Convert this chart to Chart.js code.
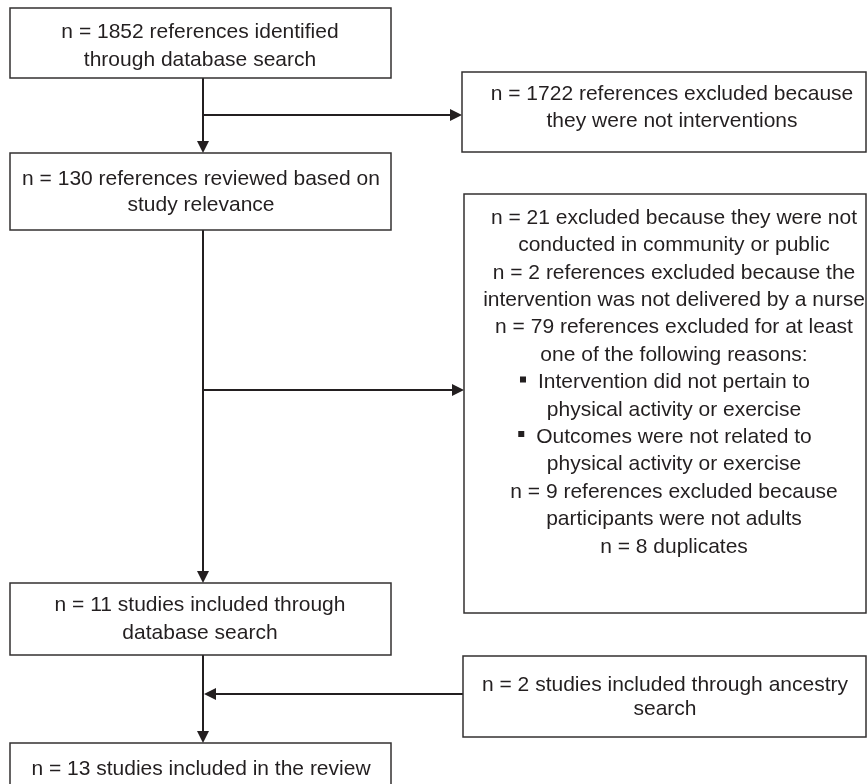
<!DOCTYPE html>
<html>
<head>
<meta charset="utf-8">
<script src="https://cdn.jsdelivr.net/npm/chart.js@4/dist/chart.umd.min.js"></script>
<style>
  html, body { margin: 0; padding: 0; background: #ffffff; }
  #wrap { width: 867px; height: 784px; }
</style>
</head>
<body>
<div id="wrap"><canvas id="c" width="867" height="784"></canvas></div>
<script>
// ---- Data (texts of the flow diagram) ----
const identifiedText = ['n = 1852 references identified', 'through database search'];
const notInterventionText = ['n = 1722 references excluded because', 'they were not interventions'];
const reviewedText = ['n = 130 references reviewed based on', 'study relevance'];
const excludedText = [
  'n = 21 excluded because they were not',
  'conducted in community or public',
  'n = 2 references excluded because the',
  'intervention was not delivered by a nurse',
  'n = 79 references excluded for at least',
  'one of the following reasons:',
  'Intervention did not pertain to',
  'physical activity or exercise',
  'Outcomes were not related to',
  'physical activity or exercise',
  'n = 9 references excluded because',
  'participants were not adults',
  'n = 8 duplicates'
];
const excludedBulletLines = [6, 8];
const includedDbText = ['n = 11 studies included through', 'database search'];
const ancestryText = ['n = 2 studies included through ancestry', 'search'];
const reviewText = ['n = 13 studies included in the review'];

// ---- Layout (positions in scale units, kept apart from the data) ----
const boxLayout = {
  identified:      { x0: 10,  y0: 8,   x1: 391, y1: 78,  cx: 200, lines: [32, 60] },
  notIntervention: { x0: 462, y0: 72,  x1: 866, y1: 152, cx: 672, lines: [94, 121] },
  reviewed:        { x0: 10,  y0: 153, x1: 391, y1: 230, cx: 201, lines: [179, 205] },
  excluded:        { x0: 464, y0: 194, x1: 866, y1: 613, cx: 674, lines: [218, 245.5, 273, 300, 327.5, 355, 382.5, 410, 437, 464.5, 492, 519.5, 547] },
  includedDb:      { x0: 10,  y0: 583, x1: 391, y1: 655, cx: 200, lines: [605, 633] },
  ancestry:        { x0: 463, y0: 656, x1: 866, y1: 737, cx: 665, lines: [685, 709] },
  review:          { x0: 10,  y0: 743, x1: 391, y1: 800, cx: 201, lines: [769] }
};
const connectors = [
  { from: [203, 78],  to: [203, 153] },
  { from: [203, 115], to: [462, 115] },
  { from: [203, 230], to: [203, 583] },
  { from: [203, 390], to: [464, 390] },
  { from: [203, 655], to: [203, 743] },
  { from: [463, 694], to: [204, 694] }
];

const INK = '#231f20';
const FONT = '21px "Liberation Sans", Arial, Helvetica, sans-serif';

const flowPlugin = {
  id: 'flow',
  afterDraw(chart) {
    const ctx = chart.ctx;
    const X = v => chart.scales.x.getPixelForValue(v);
    const Y = v => chart.scales.y.getPixelForValue(v);
    ctx.save();
    ctx.strokeStyle = INK;
    ctx.fillStyle = INK;

    // connectors with arrowheads
    ctx.lineWidth = 2;
    connectors.forEach(c => {
      const x1 = X(c.from[0]), y1 = Y(c.from[1]);
      const x2 = X(c.to[0]), y2 = Y(c.to[1]);
      const ang = Math.atan2(y2 - y1, x2 - x1);
      const L = 12, H = 6;
      const bx = x2 - L * Math.cos(ang), by = y2 - L * Math.sin(ang);
      ctx.beginPath();
      ctx.moveTo(x1, y1);
      ctx.lineTo(bx, by);
      ctx.stroke();
      ctx.beginPath();
      ctx.moveTo(x2, y2);
      ctx.lineTo(bx + H * Math.sin(ang), by - H * Math.cos(ang));
      ctx.lineTo(bx - H * Math.sin(ang), by + H * Math.cos(ang));
      ctx.closePath();
      ctx.fill();
    });

    const boxes = [
      [boxLayout.identified, identifiedText, []],
      [boxLayout.notIntervention, notInterventionText, []],
      [boxLayout.reviewed, reviewedText, []],
      [boxLayout.excluded, excludedText, excludedBulletLines],
      [boxLayout.includedDb, includedDbText, []],
      [boxLayout.ancestry, ancestryText, []],
      [boxLayout.review, reviewText, []]
    ];
    ctx.lineWidth = 1.5;
    ctx.font = FONT;
    ctx.textAlign = 'center';
    ctx.textBaseline = 'middle';
    boxes.forEach(([b, text, bullets]) => {
      const x0 = X(b.x0), y0 = Y(b.y0), x1 = X(b.x1), y1 = Y(b.y1);
      ctx.fillStyle = '#ffffff';
      ctx.fillRect(x0, y0, x1 - x0, y1 - y0);
      ctx.strokeStyle = '#333031';
      ctx.strokeRect(x0, y0, x1 - x0, y1 - y0);
      ctx.fillStyle = INK;
      text.forEach((t, i) => {
        const cx = X(b.cx), cy = Y(b.lines[i]);
        ctx.fillText(t, cx, cy);
        if (bullets.includes(i)) {
          const w = ctx.measureText(t).width;
          ctx.fillRect(cx - w / 2 - 18, cy - 6, 6, 6);
        }
      });
    });
    ctx.restore();
  }
};

new Chart(document.getElementById('c'), {
  type: 'scatter',
  data: { datasets: [{ data: [], pointRadius: 0 }] },
  options: {
    responsive: false,
    animation: false,
    devicePixelRatio: 1,
    layout: { padding: 0 },
    plugins: { legend: { display: false }, tooltip: { enabled: false } },
    scales: {
      x: { type: 'linear', min: 0, max: 867, display: false },
      y: { type: 'linear', min: 0, max: 784, reverse: true, display: false }
    }
  },
  plugins: [flowPlugin]
});
</script>
</body>
</html>
